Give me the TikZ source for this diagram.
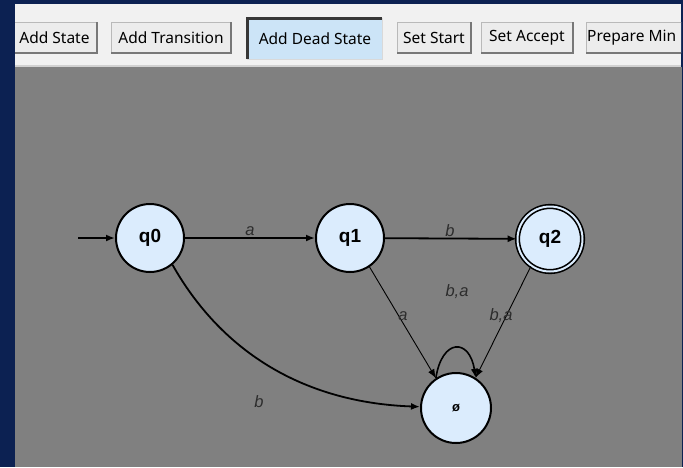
\documentclass[tikz,border=0pt]{standalone}
\usepackage{fontspec}
\setmainfont{Liberation Sans}
\newfontfamily\uifont{Noto Sans}
\usetikzlibrary{arrows.meta}

\definecolor{navy}{RGB}{12,33,82}
\definecolor{canvas}{RGB}{128,128,128}
\definecolor{toolbar}{RGB}{241,241,241}
\definecolor{btnfill}{RGB}{236,236,236}
\definecolor{btnshadow}{RGB}{120,120,120}
\definecolor{btnedge}{RGB}{185,185,185}
\definecolor{pressedfill}{RGB}{204,228,247}
\definecolor{pressededge}{RGB}{55,55,55}
\definecolor{statefill}{RGB}{219,236,253}
\definecolor{labelgray}{RGB}{45,45,45}

\begin{document}
\begin{tikzpicture}[x=1pt,y=-1pt,
  btn/.style={rectangle, inner sep=0pt, text=black,
    font=\uifont\fontsize{15.5}{16}\selectfont},
  state/.style={circle, draw=black, line width=2pt, fill=statefill,
    minimum size=68pt, inner sep=0pt,
    font=\bfseries\fontsize{19}{19}\selectfont},
  accepting/.style={state, line width=1.6pt, double=statefill,
    double distance=2pt, minimum size=65pt},
  edgelabel/.style={text=labelgray, inner sep=0pt,
    font=\itshape\fontsize{16.5}{16.5}\selectfont},
  tip/.style={-{Latex[length=9pt,width=7pt]}},
  thickedge/.style={tip, line width=1.8pt},
  thinedge/.style={tip, line width=0.9pt}]

\useasboundingbox (0,0) rectangle (683,467);

% window frame and panels
\fill[navy] (0,0) rectangle (683,467);
\fill[toolbar] (15,4) rectangle (681,65);
\fill[black!18] (15,65) rectangle (681,67);
\fill[canvas] (15,67) rectangle (682,467);

% toolbar buttons
\begin{scope}
\clip (15,4) rectangle (681,65);
\foreach \xa/\xb in {12/97, 111/231, 397/471, 481/573, 586/720} {
  \fill[btnfill] (\xa,22) rectangle (\xb,53);
  \draw[btnedge, line width=0.8pt] (\xa,53) -- (\xa,22) -- (\xb,22);
  \draw[btnshadow, line width=1.2pt] (\xa,53) -- (\xb,53) -- (\xb,22);
}
% pressed button
\fill[pressedfill] (247,18) rectangle (382,59);
\draw[white!85!black, line width=1pt] (247,59) -- (382,59) -- (382,18);
\draw[pressededge, line width=2.5pt] (247.5,59) -- (247.5,18.5) -- (382,18.5);

\node[btn] (addstate) at (54.5,38) {Add State};
\node[btn] (addtrans) at (171,38) {Add Transition};
\node[btn] (adddead) at (315,39) {Add Dead State};
\node[btn] (setstart) at (434,38) {Set Start};
\node[btn] (setaccept) at (527,38) {Set Accept};
\node[btn, anchor=west] (prepmin) at (587,38) {Prepare Min};
\end{scope}

% automaton states
\node[state] (q0) at (150,238) {q0};
\node[state] (q1) at (350,238) {q1};
\node[accepting] (q2) at (550,239) {q2};
\node[state, minimum size=70pt,
      font=\bfseries\fontsize{13}{13}\selectfont] (dead) at (456,408) {ø};

% start marker
\coordinate (start) at (78,238);
\draw[thickedge] (start) -- (q0);

% transitions
\draw[thickedge] (q0) -- (q1);
\draw[thickedge] (q1) -- (q2);
\draw[thinedge] (q1.-56) -- (dead.124);
\draw[thinedge] (q2.-125) -- (dead.57);
\draw[thickedge] (q0.-50) .. controls +(51,90) and +(-113,-4) .. (dead.178);
\draw[tip, line width=1.6pt] (dead.124) .. controls +(6,-40) and +(-6,-40) .. (dead.57);

% transition labels
\node[edgelabel] (la1) at (250,231) {a};
\node[edgelabel] (lb1) at (450,231) {b};
\node[edgelabel] (la2) at (403,316) {a};
\node[edgelabel] (lba1) at (457,292) {b,a};
\node[edgelabel] (lba2) at (501,316) {b,a};
\node[edgelabel] (lb2) at (259,402) {b};

\end{tikzpicture}
\end{document}
